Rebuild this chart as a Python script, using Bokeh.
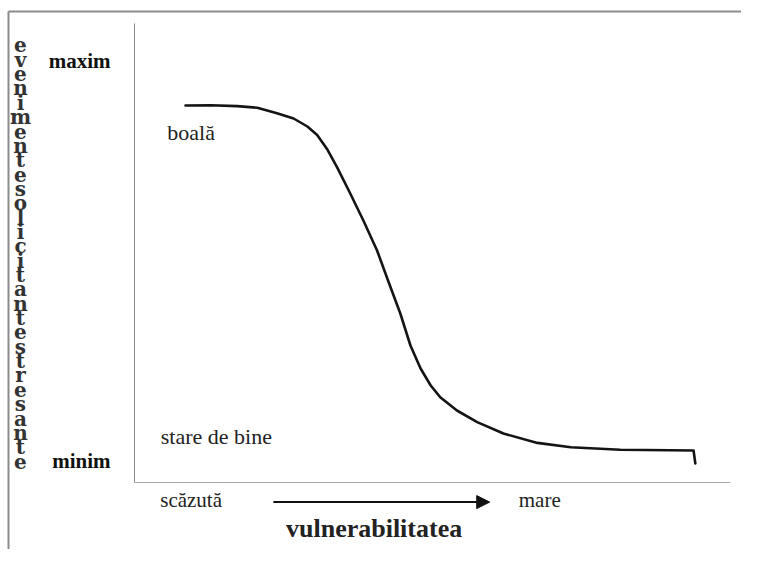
from bokeh.plotting import figure
from bokeh.models import Range1d, FixedTicker, Label, Arrow, NormalHead
from bokeh.embed import file_html
from bokeh.resources import INLINE

# ---- data ----
vulnerability = [8.56, 12.75, 17.23, 20.6, 23.9, 26.7, 29.0, 30.65, 32.3, 34.0, 36.2, 38.4,
                 40.7, 42.6, 44.6, 46.3, 48.0, 49.7, 51.3, 54.1, 57.5, 61.9, 67.6, 73.2,
                 81.5, 93.8, 94.1]
stress_events = [88.75, 88.8, 88.6, 88.2, 86.8, 85.5, 83.5, 81.4, 77.9, 73.3, 66.75, 60.0,
                 52.5, 44.75, 36.75, 28.75, 23.0, 18.75, 15.8, 12.5, 9.6, 6.75, 4.4, 3.3,
                 2.7, 2.5, -0.75]

y_ticks = [0, 100]
y_tick_labels = ["minim", "maxim"]
x_ticks = [9.5, 68]
x_tick_labels = ["scăzută", "mare"]

y_title = "evenimente solicitante stresante"
x_title = "vulnerabilitatea"

SERIF = "Liberation Serif"
W, H = 741, 549
PX_X, PX_Y = 5.96, 4.0          # pixels per data unit
X0_PX, Y0_PX = 134, 460          # pixel position of data (0, 0)

p = figure(width=W, height=H, output_backend="svg", toolbar_location=None,
           x_range=Range1d(-X0_PX / PX_X, (W - X0_PX) / PX_X),
           y_range=Range1d((Y0_PX - H) / PX_Y, Y0_PX / PX_Y),
           min_border_left=0, min_border_right=0, min_border_top=0, min_border_bottom=0)
p.outline_line_color = None
p.xgrid.visible = False
p.ygrid.visible = False
p.background_fill_color = "white"
p.border_fill_color = "white"

y_axis_bottom, y_axis_top = -5.5, 109.25
x_axis_left, x_axis_right = 0, 100

# y axis
p.yaxis.fixed_location = x_axis_left
p.yaxis.bounds = (y_axis_bottom, y_axis_top)
p.yaxis.ticker = FixedTicker(ticks=y_ticks)
p.yaxis.major_label_overrides = {t: l for t, l in zip(y_ticks, y_tick_labels)}
p.yaxis.major_tick_line_color = None
p.yaxis.minor_tick_line_color = None
p.yaxis.major_tick_out = 0
p.yaxis.major_tick_in = 0
p.yaxis.major_label_standoff = 24
p.yaxis.major_label_text_font = SERIF
p.yaxis.major_label_text_font_style = "bold"
p.yaxis.major_label_text_font_size = "21px"
p.yaxis.major_label_text_color = "#111111"
p.yaxis.axis_line_color = "#8a8a8a"
p.yaxis.axis_line_width = 1

# x axis
p.xaxis.fixed_location = y_axis_bottom
p.xaxis.bounds = (x_axis_left, x_axis_right)
p.xaxis.ticker = FixedTicker(ticks=x_ticks)
p.xaxis.major_label_overrides = {t: l for t, l in zip(x_ticks, x_tick_labels)}
p.xaxis.major_tick_line_color = None
p.xaxis.minor_tick_line_color = None
p.xaxis.major_tick_out = 0
p.xaxis.major_tick_in = 0
p.xaxis.major_label_standoff = 5
p.xaxis.major_label_text_font = SERIF
p.xaxis.major_label_text_font_size = "21px"
p.xaxis.major_label_text_color = "#222222"
p.xaxis.axis_line_color = "#a8a8a8"
p.xaxis.axis_line_width = 1

# outer scan border (top and left edges)
fx0 = (8 - X0_PX) / PX_X
fy0 = (Y0_PX - 11) / PX_Y
p.segment(x0=[fx0, fx0], y0=[fy0, fy0], x1=[(W - X0_PX) / PX_X, fx0],
          y1=[fy0, (Y0_PX - H) / PX_Y], line_color="#8c8c8c", line_width=2)

# curve
p.line(vulnerability, stress_events, line_color="#141414", line_width=2.6,
       line_join="round", line_cap="round")

# texts inside
p.add_layout(Label(x=5.5, y=82, text="boală", text_font=SERIF, text_font_size="22px",
                   text_baseline="middle", text_color="#222222"))
p.add_layout(Label(x=4.4, y=6, text="stare de bine", text_font=SERIF, text_font_size="22px",
                   text_baseline="middle", text_color="#222222"))

# arrow under x-axis
p.add_layout(Arrow(x_start=23.3, y_start=-10.4, x_end=59.6, y_end=-10.4,
                   line_color="#111111", line_width=2,
                   end=NormalHead(size=13, fill_color="#111111", line_color="#111111")))

# x title
p.add_layout(Label(x=40.2, y=-17.1, text=x_title, text_font=SERIF, text_font_style="bold",
                   text_font_size="26px", text_align="center", text_baseline="middle",
                   text_color="#222222"))

# stacked vertical y title
p.add_layout(Label(x=-19.13, y=51.75, text="\n".join(y_title.replace(" ", "")),
                   text_font="DejaVu Serif", text_font_style="bold", text_font_size="20px",
                   text_line_height=0.598, text_align="center", text_baseline="middle",
                   text_color="#333333"))

open("out.html", "w").write(file_html(p, INLINE))
